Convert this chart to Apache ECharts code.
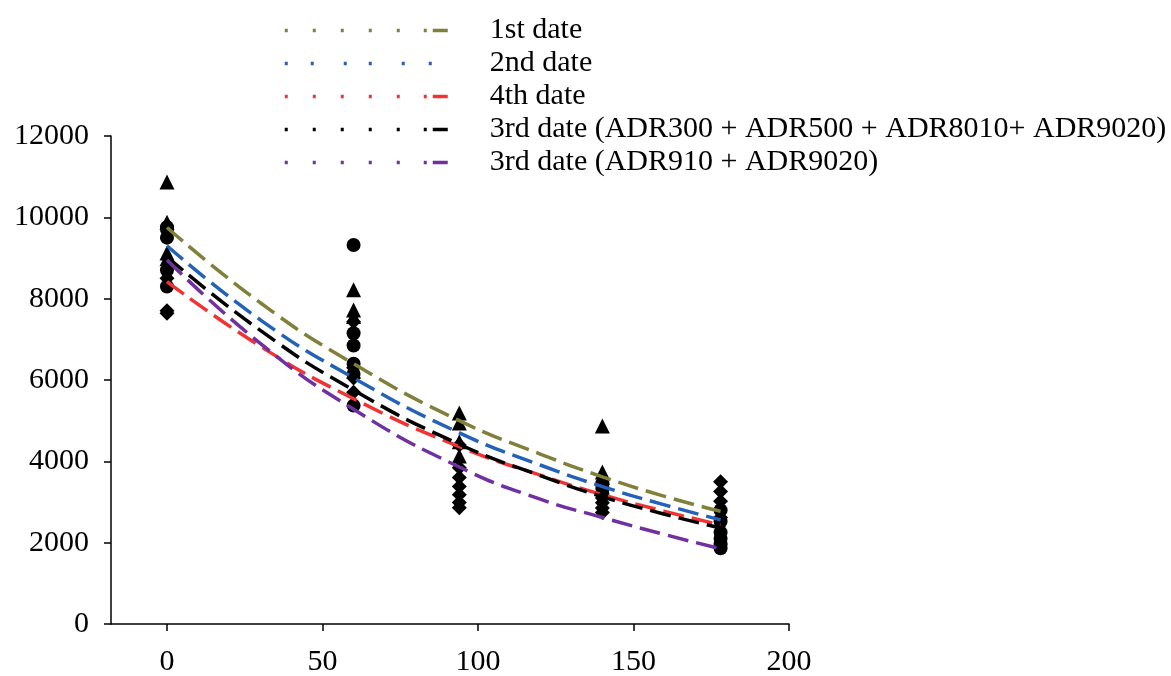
<!DOCTYPE html>
<html>
<head>
<meta charset="utf-8">
<script src="https://cdn.jsdelivr.net/npm/echarts@6/dist/echarts.min.js"></script>
<style>
  html, body { margin: 0; padding: 0; background: #fff; }
  #chart { width: 1171px; height: 676px; }
</style>
</head>
<body>
<div id="chart"></div>
<script>
// sample days for the fitted curves
const curveDays = [0, 30, 60, 94, 120, 140, 160, 178]
const date1 = [9750, 7900, 6400, 5000, 4180, 3620, 3140, 2770]
const date2 = [9300, 7480, 6050, 4700, 3910, 3380, 2930, 2560]
const date4 = [8420, 6830, 5540, 4360, 3660, 3180, 2770, 2440]
const date3a = [9030, 7220, 5750, 4420, 3650, 3130, 2700, 2360]
const date3b = [8950, 6900, 5280, 3860, 3070, 2620, 2200, 1850]

// measured points [day, value]
const trianglePts = [
  [0, 10870], [0, 9880], [0, 9120], [0, 8980],
  [60, 8220], [60, 7720], [60, 7560],
  [94, 5190], [94, 4945], [94, 4480], [94, 4130],
  [140, 4870], [140, 3740], [140, 3600]
]
const circlePts = [
  [0, 9760], [0, 9700], [0, 9500], [0, 8700], [0, 8300],
  [60, 9320], [60, 7150], [60, 6850], [60, 6400], [60, 6150], [60, 5370],
  [140, 3460], [140, 3340], [140, 3200],
  [178, 2800], [178, 2520], [178, 2250], [178, 2100], [178, 1960], [178, 1860]
]
const diamondPts = [
  [0, 8500], [0, 7700], [0, 7640],
  [60, 7430], [60, 6300], [60, 6050], [60, 5700],
  [94, 4400], [94, 3840], [94, 3600], [94, 3380], [94, 3180], [94, 2985], [94, 2860],
  [140, 3100], [140, 2980], [140, 2850], [140, 2740],
  [178, 3500], [178, 3260], [178, 3020], [178, 2620]
]

const xTicks = [0, 50, 100, 150, 200]

const curveNames = ['1st date', '2nd date', '4th date',
  '3rd date (ADR300 + ADR500 + ADR8010+ ADR9020)', '3rd date (ADR910 + ADR9020)']
const curveData = [date1, date2, date4, date3a, date3b]
const curveColors = ['#80803a', '#2462b8', '#f03434', '#000000', '#7030a0']

const font = "'Liberation Serif', 'Times New Roman', serif"

// legend patterns: dotted with a short dash at the end
const dotDash = [3, 25, 3, 25, 3, 25, 3, 25, 3, 24, 3, 6, 15, 37]
const dotOnly = [3, 23, 3, 30, 3, 22, 3, 30, 3, 24, 3, 56]

const chart = echarts.init(document.getElementById('chart'))

const lineSeries = curveNames.map((name, i) => ({
  name: name,
  type: 'line',
  data: curveDays.map((d, j) => [d, curveData[i][j]]),
  smooth: true,
  symbol: 'none',
  z: 5,
  lineStyle: { color: curveColors[i], width: 3.5, type: [21, 8], cap: 'butt' },
  itemStyle: { color: curveColors[i] }
}))

const markerSeries = [
  { pts: trianglePts, symbol: 'triangle', size: 15 },
  { pts: circlePts, symbol: 'circle', size: 14 },
  { pts: diamondPts, symbol: 'diamond', size: 15 }
].map((m, i) => ({
  name: 'pts' + i,
  type: 'scatter',
  data: m.pts,
  symbol: m.symbol,
  symbolSize: m.size,
  z: 2,
  itemStyle: { color: '#000', opacity: 1 }
}))

chart.setOption({
  animation: false,
  backgroundColor: '#fff',
  legend: {
    orient: 'vertical',
    left: 278,
    top: 9,
    itemWidth: 200,
    itemHeight: 14,
    itemGap: 0,
    selectedMode: false,
    textStyle: { fontFamily: font, fontSize: 30, color: '#000', lineHeight: 33 },
    data: curveNames.map((name, i) => ({
      name: name,
      itemStyle: { color: 'rgba(0,0,0,0)', borderWidth: 0, opacity: 0 },
      lineStyle: { color: curveColors[i], width: 3.5, type: i === 1 ? dotOnly : dotDash, cap: 'butt', opacity: 1 }
    }))
  },
  grid: {
    left: 111,
    right: 382,
    top: 136,
    bottom: 52,
    outerBoundsMode: 'none'
  },
  xAxis: {
    type: 'value',
    min: -18,
    max: 200,
    splitLine: { show: false },
    axisLine: { lineStyle: { color: '#000', width: 1.5 } },
    axisTick: { length: 7, customValues: xTicks, lineStyle: { color: '#000', width: 1.5 } },
    axisLabel: { customValues: xTicks, margin: 23, fontFamily: font, fontSize: 30, color: '#000' }
  },
  yAxis: {
    type: 'value',
    min: 0,
    max: 12000,
    interval: 2000,
    splitLine: { show: false },
    axisLine: { show: true, onZero: false, lineStyle: { color: '#000', width: 1.5 } },
    axisTick: { show: true, length: 7, lineStyle: { color: '#000', width: 1.5 } },
    axisLabel: {
      margin: 22, fontFamily: font, fontSize: 30, color: '#000',
      formatter: (v) => String(v)
    }
  },
  series: markerSeries.concat(lineSeries)
})
</script>
</body>
</html>
